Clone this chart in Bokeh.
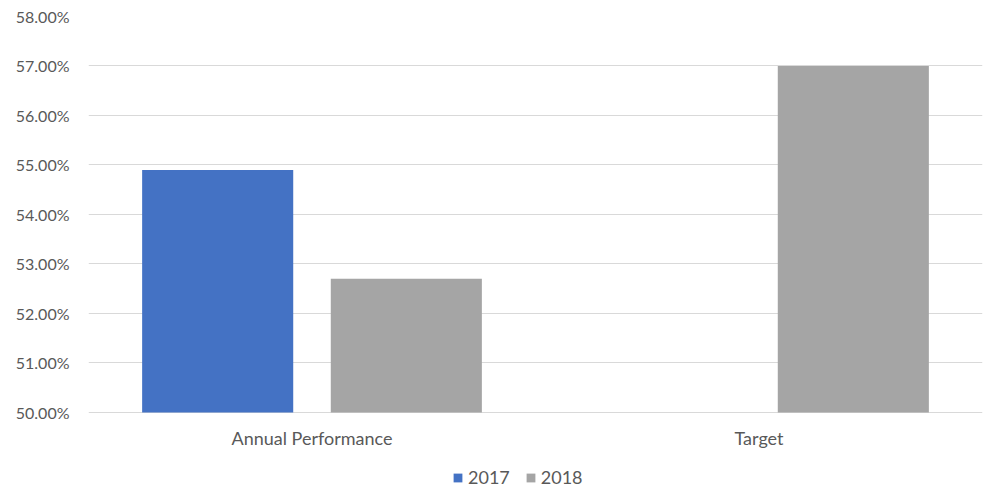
from bokeh.plotting import figure
from bokeh.models import ColumnDataSource, FactorRange, Range1d, FixedTicker, PrintfTickFormatter, Legend, LegendItem
from bokeh.transform import dodge
from bokeh.core.properties import value
from bokeh.embed import file_html
from bokeh.resources import INLINE

categories = ["Annual Performance", "Target"]
values_2017 = [54.9, float("nan")]
values_2018 = [52.7, 57.0]
y_ticks = [50, 51, 52, 53, 54, 55, 56, 57, 58]
y_base = 50

FONT = "Lato"
TXT = "#595959"

src = ColumnDataSource(dict(cat=categories, v2017=values_2017, v2018=values_2018,
                            base=[y_base] * len(categories)))

# frame spans the full lower area so that category labels and legend sit inside it
p = figure(x_range=FactorRange(*categories, range_padding=0.0), y_range=Range1d(48.4646, 58),
           width=983, height=488, output_backend="svg", toolbar_location=None,
           x_axis_location=None,
           min_border_left=88, min_border_right=1, min_border_top=16, min_border_bottom=0)
p.outline_line_color = None

r1 = p.vbar(x=dodge("cat", -0.211, range=p.x_range), top="v2017", bottom=y_base, width=0.338,
            source=src, fill_color="#4472C4", line_color=None)
r2 = p.vbar(x=dodge("cat", 0.211, range=p.x_range), top="v2018", bottom=y_base, width=0.338,
            source=src, fill_color="#A5A5A5", line_color=None)

# category labels under the 50% baseline
p.text(x="cat", y="base", text="cat", source=src, y_offset=26,
       text_align="center", text_baseline="middle",
       text_font=value(FONT), text_font_size="18px", text_color=TXT)

p.yaxis.ticker = FixedTicker(ticks=y_ticks)
p.yaxis.formatter = PrintfTickFormatter(format="%.2f%%")
p.yaxis.axis_line_color = None
p.yaxis.major_tick_line_color = None
p.yaxis.minor_tick_line_color = None
p.yaxis.major_tick_out = 0
p.yaxis.major_tick_in = 0
p.yaxis.major_label_standoff = 19
p.yaxis.major_label_text_font = FONT
p.yaxis.major_label_text_font_size = "16px"
p.yaxis.major_label_text_color = TXT

p.xgrid.grid_line_color = None
p.ygrid.ticker = FixedTicker(ticks=y_ticks)
p.ygrid.grid_line_color = "#D9D9D9"
p.ygrid.grid_line_width = 1

legend = Legend(items=[LegendItem(label="2017", renderers=[r1]),
                       LegendItem(label="2018", renderers=[r2])],
                orientation="horizontal", location=(364, 0), border_line_color=None,
                background_fill_alpha=0,
                label_text_font=FONT, label_text_font_size="18px", label_text_color=TXT,
                glyph_width=11, glyph_height=11, label_standoff=5, spacing=15,
                padding=0, margin=0, label_height=20)
p.add_layout(legend, "center")

open("out.html", "w").write(file_html(p, INLINE))
